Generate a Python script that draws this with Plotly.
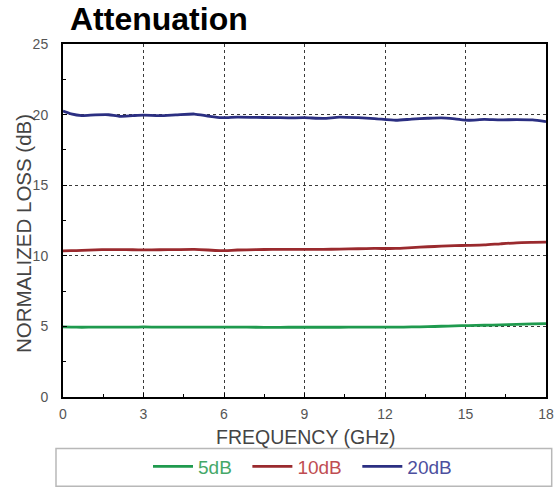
import plotly.graph_objects as go

freq = [0, 0.3, 0.7, 1.2, 1.7, 2.1, 2.6, 3.0, 3.6, 4.2, 4.9, 5.4, 5.9, 6.5, 7.2, 7.8, 8.4, 9.0, 9.7, 10.3, 11.0, 11.6, 12.4, 13.0, 13.6, 14.1, 14.6, 15.1, 15.7, 16.3, 16.9, 17.5, 18.0]
loss_5db = [4.96, 4.95, 4.94, 4.95, 4.95, 4.95, 4.95, 4.96, 4.95, 4.95, 4.95, 4.95, 4.95, 4.95, 4.94, 4.93, 4.94, 4.94, 4.94, 4.94, 4.95, 4.95, 4.95, 4.96, 4.98, 5.01, 5.04, 5.06, 5.08, 5.11, 5.15, 5.18, 5.2]
loss_10db = [10.35, 10.36, 10.38, 10.42, 10.44, 10.44, 10.43, 10.42, 10.43, 10.44, 10.45, 10.41, 10.36, 10.41, 10.44, 10.45, 10.45, 10.45, 10.46, 10.47, 10.5, 10.52, 10.52, 10.58, 10.64, 10.68, 10.72, 10.74, 10.77, 10.85, 10.92, 10.95, 10.97]
loss_20db = [20.25, 20.05, 19.93, 19.98, 19.99, 19.88, 19.93, 19.96, 19.93, 19.98, 20.04, 19.9, 19.78, 19.82, 19.8, 19.79, 19.77, 19.78, 19.73, 19.82, 19.78, 19.72, 19.6, 19.68, 19.74, 19.77, 19.7, 19.6, 19.66, 19.62, 19.65, 19.62, 19.5]

x_ticks = [0, 3, 6, 9, 12, 15, 18]
y_ticks = [0, 5, 10, 15, 20, 25]

# name, values, line colour, legend text colour
series = [
    ("5dB", loss_5db, "#1f9a4e", "#45a868"),
    ("10dB", loss_10db, "#9a2a2e", "#bf4d52"),
    ("20dB", loss_20db, "#2b2f82", "#4d4f9e"),
]

FONT = "Liberation Sans, Arial, sans-serif"

fig = go.Figure()
for name, vals, col, tcol in series:
    fig.add_trace(go.Scatter(
        x=freq, y=vals, mode="lines",
        name=f'<span style="color:{tcol}">{name}&nbsp;&nbsp;</span>',
        line=dict(color=col, width=2.8, shape="spline", smoothing=0.6),
    ))

axis_common = dict(
    showline=True, linecolor="black", linewidth=2, mirror=True,
    showgrid=True, gridcolor="#3a3a3a", gridwidth=1, griddash="3px,3px",
    ticks="inside", ticklen=4, tickcolor="black",
    zeroline=False, automargin=False,
    tickfont=dict(family=FONT, size=14, color="#555555"),
)

fig.update_xaxes(
    range=[0, 18], tickvals=x_ticks, ticktext=[str(v) for v in x_ticks],
    ticklabelstandoff=3,
    minor=dict(dtick=1.5, ticks="inside", ticklen=3, tickcolor="black", showgrid=False),
    **axis_common,
)
fig.update_yaxes(
    range=[0, 25], tickvals=y_ticks, ticktext=[str(v) for v in y_ticks],
    ticklabelstandoff=10,
    minor=dict(dtick=2.5, ticks="inside", ticklen=3, tickcolor="black", showgrid=False),
    **axis_common,
)

# axis titles as annotations for precise placement
fig.add_annotation(text="FREQUENCY (GHz)", xref="paper", yref="paper",
                   x=0.502, y=-0.112, xanchor="center", yanchor="middle", showarrow=False,
                   font=dict(family=FONT, size=19.5, color="#444444"))
fig.add_annotation(text="NORMALIZED LOSS (dB)", xref="paper", yref="paper",
                   x=-0.083, y=0.464, xanchor="center", yanchor="middle", showarrow=False,
                   textangle=-90,
                   font=dict(family=FONT, size=20.5, color="#444444"))

fig.add_shape(type="rect", xref="paper", yref="paper",
              x0=-0.0145, x1=1.0118, y0=-0.2528, y1=-0.146,
              line=dict(color="#b8b8b8", width=1.5), fillcolor="rgba(0,0,0,0)")

fig.update_layout(
    width=557, height=496,
    margin=dict(l=63, r=11, t=44, b=92),
    paper_bgcolor="white", plot_bgcolor="white",
    title=dict(text="<b>Attenuation</b>", x=70/557, xanchor="left", y=1 - 19/496, yanchor="middle",
               font=dict(family=FONT, size=32, color="black")),
    showlegend=True,
    legend=dict(orientation="h", x=(148 - 63) / 483, xanchor="left", y=-0.197, yanchor="middle",
                font=dict(family=FONT, size=19),
                bgcolor="rgba(0,0,0,0)", itemwidth=40, tracegroupgap=0),
)

fig.write_html("out.html", config={"displayModeBar": False},
               post_script="document.body.style.margin='0';")
